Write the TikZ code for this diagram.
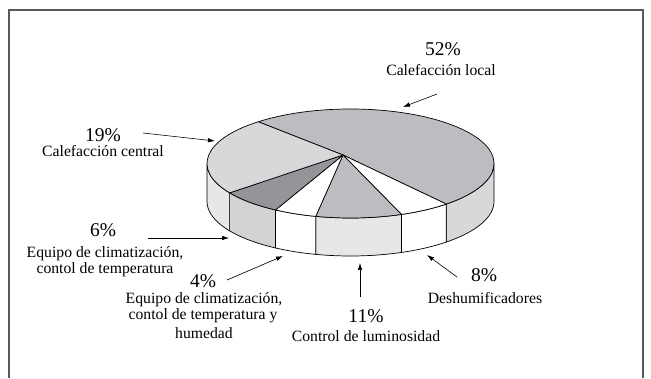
\documentclass[tikz,border=0pt]{standalone}
\usepackage{fontspec}
\setmainfont{Liberation Serif}
\usetikzlibrary{calc,arrows.meta}
\definecolor{gmid}{HTML}{BCBDC0}
\definecolor{glight}{HTML}{D7D8DA}
\definecolor{gdark}{HTML}{939598}
\definecolor{gpale}{HTML}{E6E7E8}
\definecolor{gside}{HTML}{D1D3D4}
\begin{document}
\begin{tikzpicture}[x=1pt,y=1pt,
  pct/.style={anchor=base,inner sep=0pt,font=\fontsize{19.5}{21}\selectfont},
  lbl/.style={anchor=base,inner sep=0pt,font=\fontsize{15.7}{17}\selectfont},
  face/.style={draw=black,line width=0.7pt,line join=round},
  pointer/.style={-{Latex[length=7pt,width=4.5pt]},line width=0.6pt}]
\useasboundingbox (0,0) rectangle (651,378);
\draw[line width=1.3pt,gray!70!black] (9,0) -- (9,368) -- (643,368) -- (643,0);
\coordinate (C) at (350.5,214.5);
\coordinate (A) at (343,223);
%Drawing the sides
\draw[face,fill=glight] ($(C)+(0:143.5 and 54.5)$) arc[start angle=0,end angle=-48.1,x radius=143.5,y radius=54.5] -- ++(0,-38) arc[start angle=-48.1,end angle=0,x radius=143.5,y radius=54.5] -- cycle;
\draw[face,fill=white] ($(C)+(-48.1:143.5 and 54.5)$) arc[start angle=-48.1,end angle=-69.2,x radius=143.5,y radius=54.5] -- ++(0,-38) arc[start angle=-69.2,end angle=-48.1,x radius=143.5,y radius=54.5] -- cycle;
\draw[face,fill=gpale] ($(C)+(-69.2:143.5 and 54.5)$) arc[start angle=-69.2,end angle=-104,x radius=143.5,y radius=54.5] -- ++(0,-38) arc[start angle=-104,end angle=-69.2,x radius=143.5,y radius=54.5] -- cycle;
\draw[face,fill=white] ($(C)+(-104:143.5 and 54.5)$) arc[start angle=-104,end angle=-121.5,x radius=143.5,y radius=54.5] -- ++(0,-38) arc[start angle=-121.5,end angle=-104,x radius=143.5,y radius=54.5] -- cycle;
\draw[face,fill=gside] ($(C)+(-121.5:143.5 and 54.5)$) arc[start angle=-121.5,end angle=-147.4,x radius=143.5,y radius=54.5] -- ++(0,-38) arc[start angle=-147.4,end angle=-121.5,x radius=143.5,y radius=54.5] -- cycle;
\draw[face,fill=gpale] ($(C)+(-147.4:143.5 and 54.5)$) arc[start angle=-147.4,end angle=-180,x radius=143.5,y radius=54.5] -- ++(0,-38) arc[start angle=-180,end angle=-147.4,x radius=143.5,y radius=54.5] -- cycle;
%Drawing the top
\draw[face,fill=gmid] (A) -- ($(C)+(130:143.5 and 54.5)$) arc[start angle=130,end angle=-48.1,x radius=143.5,y radius=54.5] -- cycle;
\draw[face,fill=white] (A) -- ($(C)+(-48.1:143.5 and 54.5)$) arc[start angle=-48.1,end angle=-69.2,x radius=143.5,y radius=54.5] -- cycle;
\draw[face,fill=gmid] (A) -- ($(C)+(-69.2:143.5 and 54.5)$) arc[start angle=-69.2,end angle=-104,x radius=143.5,y radius=54.5] -- cycle;
\draw[face,fill=white] (A) -- ($(C)+(-104:143.5 and 54.5)$) arc[start angle=-104,end angle=-121.5,x radius=143.5,y radius=54.5] -- cycle;
\draw[face,fill=gdark] (A) -- ($(C)+(-121.5:143.5 and 54.5)$) arc[start angle=-121.5,end angle=-147.4,x radius=143.5,y radius=54.5] -- cycle;
\draw[face,fill=glight] (A) -- ($(C)+(-147.4:143.5 and 54.5)$) arc[start angle=-147.4,end angle=-230,x radius=143.5,y radius=54.5] -- cycle;
%Labels
\node[pct] (p52) at (443,322) {52\%};
\node[lbl] (l52) at (441,302) {Calefacción local};
\node[pct] (p19) at (103,236) {19\%};
\node[lbl] (l19) at (103,221) {Calefacción central};
\node[pct] (p6) at (103,141) {6\%};
\node[lbl] (l6a) at (105,121) {Equipo de climatización,};
\node[lbl] (l6b) at (105,105) {contol de temperatura};
\node[pct] (p4) at (203,91) {4\%};
\node[lbl] (l4a) at (204,75) {Equipo de climatización,};
\node[lbl] (l4b) at (203,59) {contol de temperatura y};
\node[lbl] (l4c) at (204,40) {humedad};
\node[pct] (p11) at (366,56) {11\%};
\node[lbl] (l11) at (366,37) {Control de luminosidad};
\node[pct] (p8) at (484,96) {8\%};
\node[lbl] (l8) at (485,75) {Deshumificadores};
%Drawing arrows
\coordinate (t52) at (437,284); \coordinate (h52) at (403,271);
\coordinate (t19) at (143,245); \coordinate (h19) at (215,237);
\coordinate (t6) at (148,140); \coordinate (h6) at (229,140);
\coordinate (t4) at (227,98); \coordinate (h4) at (283,122);
\coordinate (t11) at (360,81); \coordinate (h11) at (360,115);
\coordinate (t8) at (457,101); \coordinate (h8) at (427,123);
\draw[pointer] (t52) -- (h52);
\draw[pointer] (t19) -- (h19);
\draw[pointer] (t6) -- (h6);
\draw[pointer] (t4) -- (h4);
\draw[pointer] (t11) -- (h11);
\draw[pointer] (t8) -- (h8);
\end{tikzpicture}
\end{document}
